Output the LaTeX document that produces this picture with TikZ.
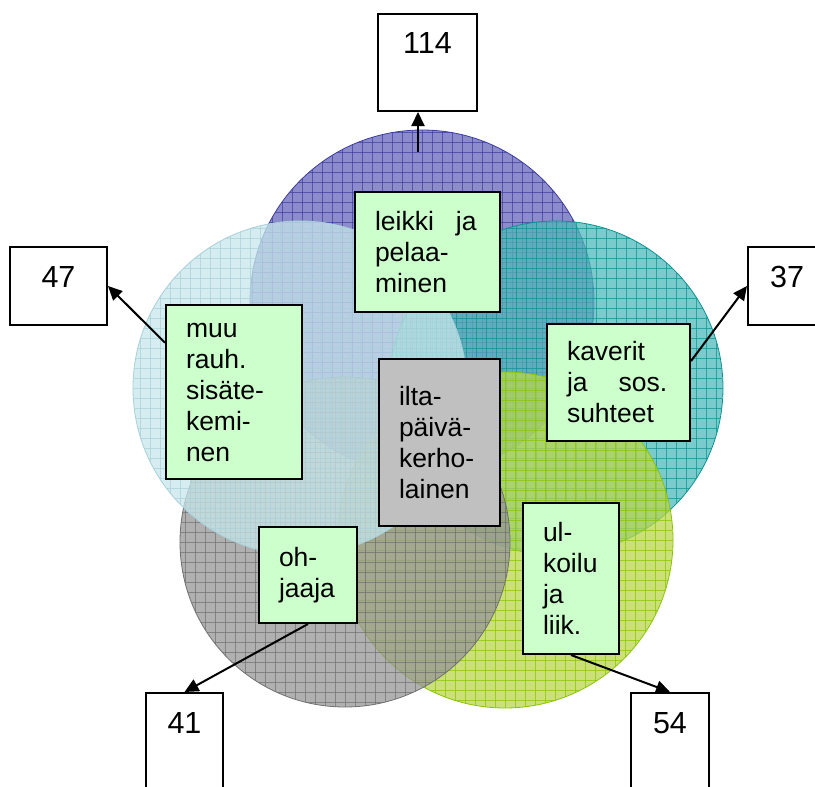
\documentclass[tikz,border=0pt]{standalone}
\usepackage{fontspec}
\setmainfont{Liberation Sans}
\usepackage{tikz}
\usetikzlibrary{
	arrows.meta,
	calc
}

\definecolor{topfill}{RGB}{102,102,188}
\definecolor{topline}{RGB}{60,60,159}
\definecolor{leftfill}{RGB}{199,230,235}
\definecolor{leftline}{RGB}{169,208,216}
\definecolor{rightfill}{RGB}{78,185,185}
\definecolor{rightline}{RGB}{13,146,146}
\definecolor{grayfill}{RGB}{150,150,150}
\definecolor{grayline}{RGB}{112,112,112}
\definecolor{greenfill}{RGB}{187,214,78}
\definecolor{greenline}{RGB}{136,197,0}
\definecolor{boxgreen}{RGB}{204,255,204}
\definecolor{boxgray}{RGB}{192,192,192}

\newcommand{\boxfont}{\fontsize{26.5}{31}\selectfont}
\newcommand{\numfont}{\fontsize{30.5}{36}\selectfont}

% x, y, radius, fill, grid colour
\newcommand{\gridcircle}[5]{%
	\begin{scope}
		\clip (#1,#2) circle[radius=#3];
		\fill[#4, fill opacity=0.75] (#1,#2) circle[radius=#3];
		\foreach \gi in {-18,...,18}{
			\draw[#5, draw opacity=0.7, line width=0.6pt] ({#1+10*\gi},{#2-#3}) -- ({#1+10*\gi},{#2+#3});
			\draw[#5, draw opacity=0.7, line width=0.6pt] ({#1-#3},{#2+10*\gi}) -- ({#1+#3},{#2+10*\gi});
		}
	\end{scope}
	\draw[#5, line width=0.8pt] (#1,#2) circle[radius=#3];
}

\begin{document}
\begin{tikzpicture}[x=1pt, y=-1pt,
					gbox/.style={
					rectangle, draw, line width=2pt,
					align=left, fill=boxgreen, font=\boxfont,
					inner xsep=20pt, inner ysep=0pt
				},
				graybox/.style={
					gbox, fill=boxgray
				},
				numbox/.style={
					rectangle, draw, line width=2pt, fill=white,
					inner sep=0pt, font=\numfont,
					text height=40pt, anchor=base
				},
				arrow/.style={-{Triangle[length=14pt,width=13pt]}, line width=2pt},
				]
				\useasboundingbox (0,0) rectangle (815,787);
				
				%circles
				\gridcircle{422}{302}{172}{topfill}{topline}
				\gridcircle{556}{388}{167}{rightfill}{rightline}
				\gridcircle{505}{540}{168}{greenfill}{greenline}
				\gridcircle{345}{542}{165}{grayfill}{grayline}
				\gridcircle{300}{388}{167}{leftfill}{leftline}
				
				%centre
				\node[graybox, text width=81pt, minimum height=167pt] (ilta) at (439.5,442.5) {ilta-\\päivä-\\kerho-\\lainen};
				
				%boxes round it
				\node[gbox, text width=105pt, minimum height=120pt] (leikki) at (427.5,252) {leikki\hspace{22pt}ja\\pelaa-\\minen};
				\node[gbox, text width=96pt, minimum height=174pt] (muu) at (234,392) {muu\\rauh.\\sisäte-\\kemi-\\nen};
				\node[gbox, text width=103pt, minimum height=117pt] (kav) at (618.5,382.5) {kaverit\\ja\hspace{31pt}sos.\\suhteet};
				\node[gbox, text width=58pt, minimum height=96pt] (ohj) at (308,575) {oh-\\jaaja};
				\node[gbox, text width=56pt, minimum height=151pt] (ulk) at (571,578.5) {ul-\\koilu\\ja\\liik.};
				
				%numbers
				\node[numbox, minimum width=99pt, text height=39pt, text depth=58pt] (n114) at (427.5,53) {114};
				\node[numbox, minimum width=97pt, text depth=38pt] (n47) at (58.5,287) {47};
				\node[numbox, minimum width=78pt, text depth=38pt] (n37) at (787,287) {37};
				\node[numbox, minimum width=77pt, text depth=80pt] (n41) at (184.5,733) {41};
				\node[numbox, minimum width=78pt, text depth=80pt] (n54) at (670,733) {54};
				
				%arrows
				\coordinate (topc) at (418,152);
				\draw[arrow] (topc) -- (topc |- n114.south);
				\draw[arrow] ($(muu.north west)!0.22!(muu.south west)$) -- (n47.east);
				\draw[arrow] ($(kav.north east)!0.32!(kav.south east)$) -- (n37.west);
				\draw[arrow] (ohj.south) -- (n41.north);
				\draw[arrow] (ulk.south) -- (n54.north);
			\end{tikzpicture}
\end{document}
